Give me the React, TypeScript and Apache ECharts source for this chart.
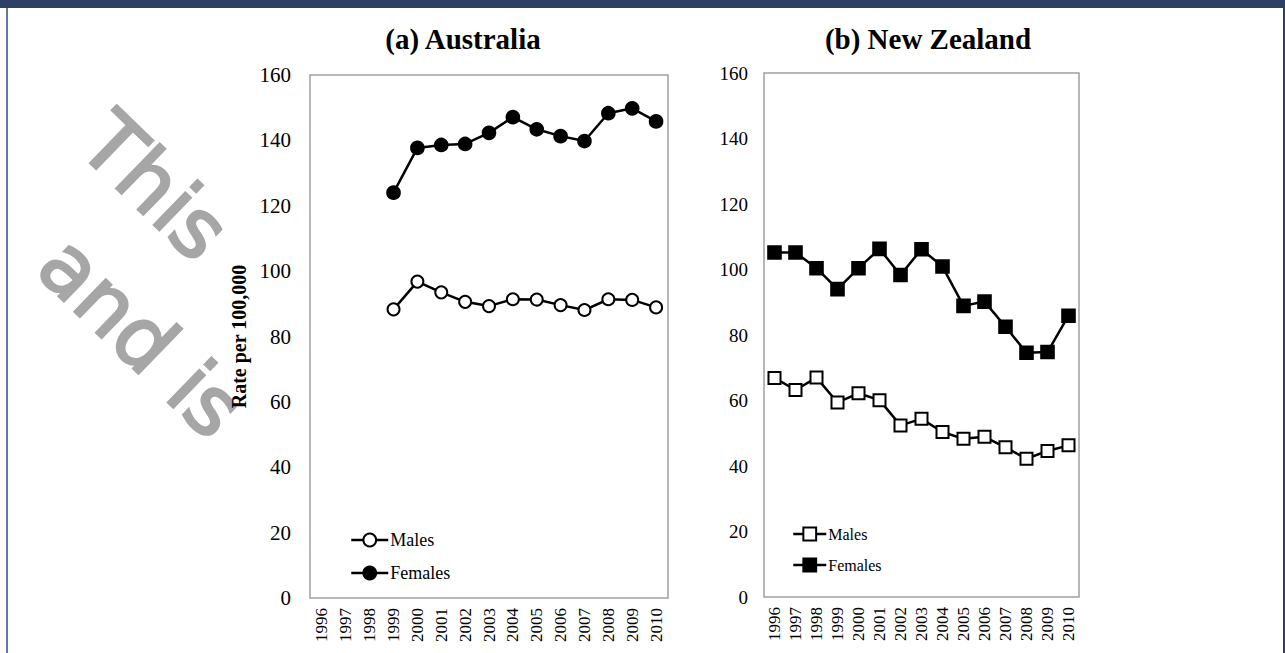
import React, { useEffect, useRef } from "react";
import * as echarts from "echarts";

const years = ["1996", "1997", "1998", "1999", "2000", "2001", "2002", "2003", "2004", "2005", "2006", "2007", "2008", "2009", "2010"];

// (a) Australia – rate per 100,000
const auMales = [null, null, null, 88.3, 96.8, 93.5, 90.6, 89.3, 91.4, 91.3, 89.6, 88.1, 91.4, 91.2, 88.9];
const auFemales = [null, null, null, 124.0, 137.7, 138.6, 138.9, 142.3, 147.1, 143.4, 141.3, 139.8, 148.3, 149.8, 145.8];

// (b) New Zealand – rate per 100,000
const nzMales = [66.9, 63.2, 67.0, 59.4, 62.2, 60.1, 52.4, 54.4, 50.4, 48.3, 48.9, 45.7, 42.2, 44.6, 46.3];
const nzFemales = [105.2, 105.2, 100.4, 94.0, 100.4, 106.3, 98.3, 106.2, 100.9, 88.9, 90.2, 82.5, 74.6, 74.8, 85.9];

const titles = ["(a) Australia", "(b) New Zealand"];
const yName = "Rate per 100,000";
const yMin = 0;
const yMax = 160;
const yStep = 20;

const SERIF = "'Liberation Serif', 'Times New Roman', serif";

export default function App() {
  const ref = useRef<HTMLDivElement>(null);

  useEffect(() => {
    if (!ref.current) return;
    const chart = echarts.init(ref.current, undefined, { renderer: "svg" });

    const yAxisBase = (grid: number, fontSize: number, margin: number) => ({
      type: "value",
      gridIndex: grid,
      min: yMin,
      max: yMax,
      interval: yStep,
      axisLine: { show: false },
      axisTick: { show: false },
      splitLine: { show: false },
      axisLabel: { color: "#000", fontFamily: SERIF, fontSize, margin },
    });

    const xAxisBase = (grid: number) => ({
      type: "category",
      gridIndex: grid,
      data: years,
      boundaryGap: true,
      axisLine: { show: false },
      axisTick: { show: false },
      splitLine: { show: false },
      axisLabel: { color: "#000", fontFamily: SERIF, fontSize: 17, rotate: 90, margin: 10, interval: 0 },
    });

    const lineSeries = (name: string, grid: number, data: (number | null)[], symbol: string, size: number) => ({
      name,
      type: "line",
      xAxisIndex: grid,
      yAxisIndex: grid,
      data,
      symbol,
      symbolSize: size,
      showAllSymbol: true,
      lineStyle: { color: "#000", width: 2.5 },
      itemStyle: { color: "#000", borderColor: "#000", borderWidth: 1.6 },
      emphasis: { disabled: true },
      z: 3,
    });

    const legendBase = (left: number, top: number, itemWidth: number, gap: number, fontSize: number, names: string[]) => ({
      orient: "vertical",
      left,
      top,
      padding: 0,
      itemWidth,
      itemHeight: 16,
      itemGap: gap,
      selectedMode: false,
      data: names,
      formatter: (n: string) => n.split("|")[1],
      lineStyle: { width: 2.5, color: "#000" },
      textStyle: { color: "#000", fontFamily: SERIF, fontSize, padding: [0, 0, 0, -3] },
    });

    const wmStyle = (text: string) => ({
      text,
      fill: "#a6a6a6",
      stroke: "#a6a6a6",
      lineWidth: 2.5,
      font: "82px 'DejaVu Sans', sans-serif",
      textAlign: "left",
      textVerticalAlign: "middle",
    });

    const option: any = {
      animation: false,
      backgroundColor: "#fff",
      grid: [
        { left: 310, top: 75, width: 358, height: 523, show: true, borderColor: "#a0a0a0", borderWidth: 1.5, backgroundColor: "#fff" },
        { left: 764, top: 73, width: 315, height: 524, show: true, borderColor: "#a0a0a0", borderWidth: 1.5, backgroundColor: "#fff" },
      ],
      xAxis: [xAxisBase(0), xAxisBase(1)],
      yAxis: [
        {
          ...yAxisBase(0, 21, 19),
          name: yName,
          nameLocation: "middle",
          nameRotate: 90,
          nameGap: 61,
          nameTextStyle: { color: "#000", fontFamily: SERIF, fontSize: 20, fontWeight: "bold" },
        },
        yAxisBase(1, 19, 16),
      ],
      legend: [
        legendBase(350, 531, 37, 15, 18, ["AU|Males", "AU|Females"]),
        legendBase(792, 526, 33, 15, 16, ["NZ|Males", "NZ|Females"]),
      ],
      series: [
        lineSeries("AU|Males", 0, auMales, "emptyCircle", 12),
        lineSeries("AU|Females", 0, auFemales, "circle", 13),
        lineSeries("NZ|Males", 1, nzMales, "emptyRect", 12),
        lineSeries("NZ|Females", 1, nzFemales, "rect", 13),
      ],
      graphic: [
        // frame
        { type: "rect", z: -10, shape: { x: 0, y: 0, width: 1285, height: 8 }, style: { fill: "#2e3f66" } },
        { type: "rect", z: -10, shape: { x: 6, y: 8, width: 2, height: 645 }, style: { fill: "#6476a2" } },
        { type: "rect", z: -10, shape: { x: 1283, y: 0, width: 2, height: 653 }, style: { fill: "#2e3f66" } },
        // watermark
        { type: "text", z: -5, x: 95, y: 128, rotation: -0.77, style: wmStyle("This") },
        { type: "text", z: -5, x: 53, y: 251, rotation: -0.77, style: wmStyle("and is") },
        // panel titles
        {
          type: "text",
          x: 463,
          y: 39,
          style: { text: titles[0], fill: "#000", font: `bold 29px ${SERIF}`, textAlign: "center", textVerticalAlign: "middle" },
        },
        {
          type: "text",
          x: 928,
          y: 39,
          style: { text: titles[1], fill: "#000", font: `bold 29px ${SERIF}`, textAlign: "center", textVerticalAlign: "middle" },
        },
      ],
    };

    chart.setOption(option);
    return () => chart.dispose();
  }, []);

  return (
    <div
      ref={ref}
      style={{ position: "fixed", left: 0, top: 0, width: 1285, height: 653, background: "#fff" }}
    />
  );
}
